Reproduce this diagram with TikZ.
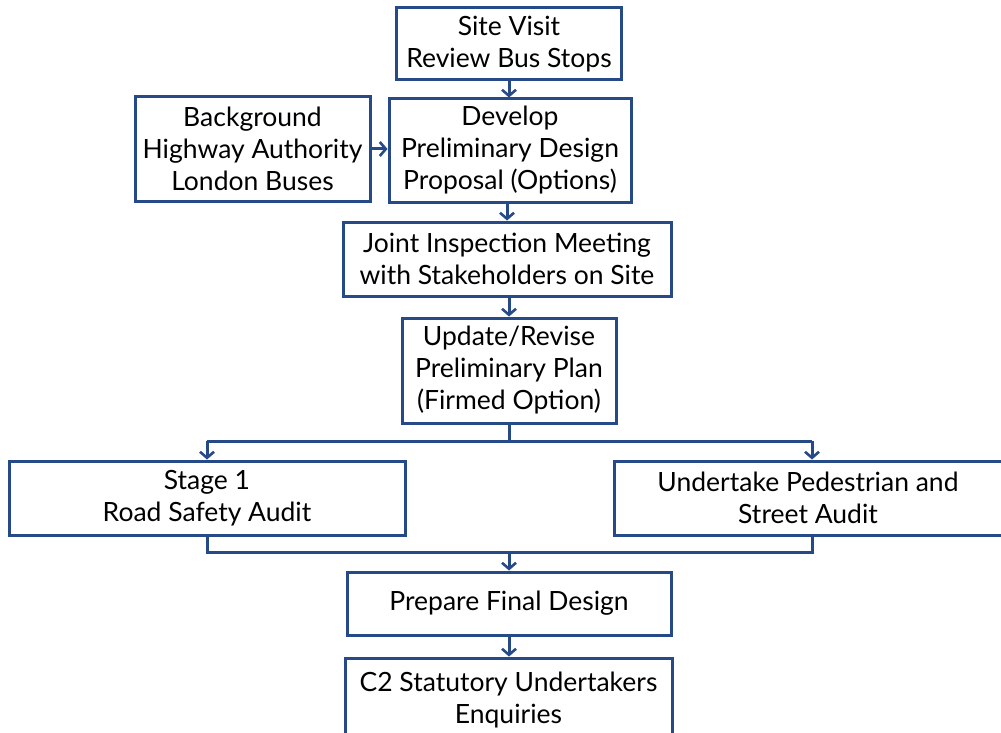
\documentclass[tikz,border=0pt]{standalone}
\usepackage{fontspec}
\setmainfont{Lato}
\usetikzlibrary{arrows.meta}
\definecolor{bl}{RGB}{38,74,136}
\tikzset{
  box/.style={draw=bl, line width=3pt, fill=white, inner sep=0pt, align=center,
    font=\fontsize{26.5}{32}\selectfont, text=black},
  conn/.style={draw=bl, line width=3pt, -{Straight Barb[length=6pt,width=14pt,line width=2.6pt]}},
  seg/.style={draw=bl, line width=3pt}
}
\begin{document}
\begin{tikzpicture}[x=1pt,y=-1pt]
\clip (0,0) rectangle (1001,733);
\fill[white] (0,0) rectangle (1001,733);
\node[box, minimum width=225, minimum height=72] (site) at (509,44) {Site Visit\\Review Bus Stops};
\node[box, minimum width=242, minimum height=103] (dev) at (510,150.5) {Develop\\Preliminary Design\\Proposal (Options)};
\node[box, minimum width=235, minimum height=104] (bg) at (252.5,149) {Background\\Highway Authority\\London Buses};
\node[box, minimum width=328, minimum height=74] (joint) at (507,259) {Joint Inspection Meeting\\with Stakeholders on Site};
\node[box, minimum width=214, minimum height=105] (upd) at (509,370.5) {Update/Revise\\Preliminary Plan\\(Firmed Option)};
\node[box, minimum width=396, minimum height=74] (stage) at (207,498) {Stage 1\\Road Safety Audit};
\node[box, minimum width=388, minimum height=74] (ped) at (808,498) {Undertake Pedestrian and\\Street Audit};
\node[box, minimum width=324, minimum height=63] (final) at (509,603.5) {Prepare Final Design};
\node[box, minimum width=327, minimum height=84] (c2) at (508.5,700) {C2 Statutory Undertakers\\Enquiries};
\coordinate (sj) at (207,441);
\coordinate (pj) at (812,441);
\coordinate (uj) at (509,441);
\coordinate (sb) at (207,552);
\coordinate (pb) at (812,552);
\coordinate (fj) at (509,552);
\draw[conn] (site.south) -- (site.south |- dev.north);
\draw[conn] (bg.east) -- (dev.west |- bg.east);
\draw[conn] (dev.south -| joint.north) -- (joint.north);
\draw[conn] (joint.south -| upd.north) -- (upd.north);
\draw[seg] (upd.south) -- (uj);
\draw[seg] (sj) -- (pj);
\draw[conn] (sj) -- (sj |- stage.north);
\draw[conn] (pj) -- (pj |- ped.north);
\draw[seg] (sj |- stage.south) -- (sb) -- (pb) -- (pj |- ped.south);
\draw[conn] (fj) -- (final.north);
\draw[conn] (final.south) -- (final.south |- c2.north);
\end{tikzpicture}
\end{document}
